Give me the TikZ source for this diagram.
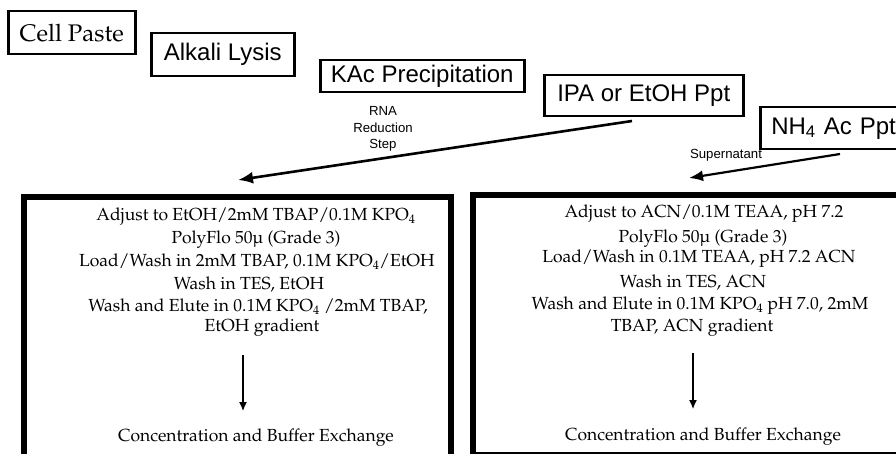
\documentclass[tikz,border=0pt]{standalone}
\usepackage[T1]{fontenc}
\usepackage{fontspec}
\newfontfamily\arial{Liberation Sans}
% Palatino for the column instructions
\newcommand\pala{\fontencoding{T1}\fontfamily{ppl}\selectfont}
\usetikzlibrary{arrows.meta}

\tikzset{
  stepbox/.style={draw, line width=2.5pt, inner sep=0pt, minimum height=42pt, anchor=north west},
  bigbox/.style={draw, line width=5.5pt},
  steptext/.style={font=\arial\fontsize{24}{28}\selectfont},
  serifbox/.style={font=\pala\fontsize{24}{28}\selectfont},
  body/.style={font=\pala\fontsize{17.5}{21}\selectfont, inner sep=0pt, anchor=center},
  note/.style={font=\arial\fontsize{13.2}{16.5}\selectfont, inner sep=0pt, align=center},
  bigarrow/.style={line width=2.6pt, -{Latex[length=15pt, width=12pt]}},
  downarrow/.style={line width=1.3pt, -{Latex[length=9pt, width=8pt]}},
}

\begin{document}
\begin{tikzpicture}[x=1pt, y=-1pt]
\useasboundingbox (0,0) rectangle (896,454);
\clip (0,0) rectangle (896,454);

% process steps
\node[stepbox, serifbox, minimum width=127pt, minimum height=43pt] (paste) at (7,10) {Cell Paste};
\node[stepbox, steptext, minimum width=143pt, minimum height=43pt] (lysis) at (150,32) {Alkali Lysis};
\node[stepbox, steptext, minimum width=204pt, minimum height=32pt] (kac) at (319,59) {KAc Precipitation};
\node[stepbox, steptext, minimum width=199pt, minimum height=41pt] (ipa) at (543,74) {IPA or EtOH Ppt};
\node[stepbox, steptext, minimum width=150pt, minimum height=42pt, text width=150pt, align=left] (nh4) at (759,106) {\hspace*{11pt}NH\textsubscript{4} Ac Ppt};

% branch arrows
\coordinate (ipaout) at (632,121);
\coordinate (lefttip) at (238,180);
\coordinate (nh4out) at (840,154);
\coordinate (righttip) at (689,178);
\draw[bigarrow] (ipaout) -- (lefttip);
\draw[line width=2.2pt, -{Latex[length=14pt, width=11pt]}] (nh4out) -- (righttip);
\node[note] (rna) at (383,129) {RNA\\Reduction\\Step};
\node[note] (super) at (726,155) {Supernatant};

% purification columns
\draw[bigbox] (24,197) rectangle (451,470);
\draw[bigbox] (473,195) rectangle (940,455);

% left column: IPA / EtOH route
\node[body] (a1) at (256,217) {Adjust to EtOH/2mM TBAP/0.1M KPO\textsubscript{4}};
\node[body] (a2) at (256,240) {PolyFlo 50\textmu\ (Grade 3)};
\node[body] (a3) at (257,262) {Load/Wash in 2mM TBAP, 0.1M KPO\textsubscript{4}/EtOH};
\node[body] (a4) at (249,285) {Wash in TES, EtOH};
\node[body] (a5) at (258,307) {Wash and Elute in 0.1M KPO\textsubscript{4} /2mM TBAP,};
\node[body] (a6) at (262,328) {EtOH gradient};
\node[body] (a7) at (256,438) {Concentration and Buffer Exchange};
\coordinate (adown1) at (243,355);
\coordinate (adown2) at (243,411);
\draw[downarrow] (adown1) -- (adown2);

% right column: NH4Ac route
\node[body] (b1) at (704,214) {Adjust to ACN/0.1M TEAA, pH 7.2};
\node[body] (b2) at (703,239) {PolyFlo 50\textmu\ (Grade 3)};
\node[body] (b3) at (699,259) {Load/Wash in 0.1M TEAA, pH 7.2 ACN};
\node[body] (b4) at (693,283) {Wash in TES, ACN};
\node[body] (b5) at (700,306) {Wash and Elute in 0.1M KPO\textsubscript{4} pH 7.0, 2mM};
\node[body] (b6) at (692,328) {TBAP, ACN gradient};
\node[body] (b7) at (703,437) {Concentration and Buffer Exchange};
\coordinate (bdown1) at (693,353);
\coordinate (bdown2) at (693,409);
\draw[downarrow] (bdown1) -- (bdown2);
\end{tikzpicture}
\end{document}
